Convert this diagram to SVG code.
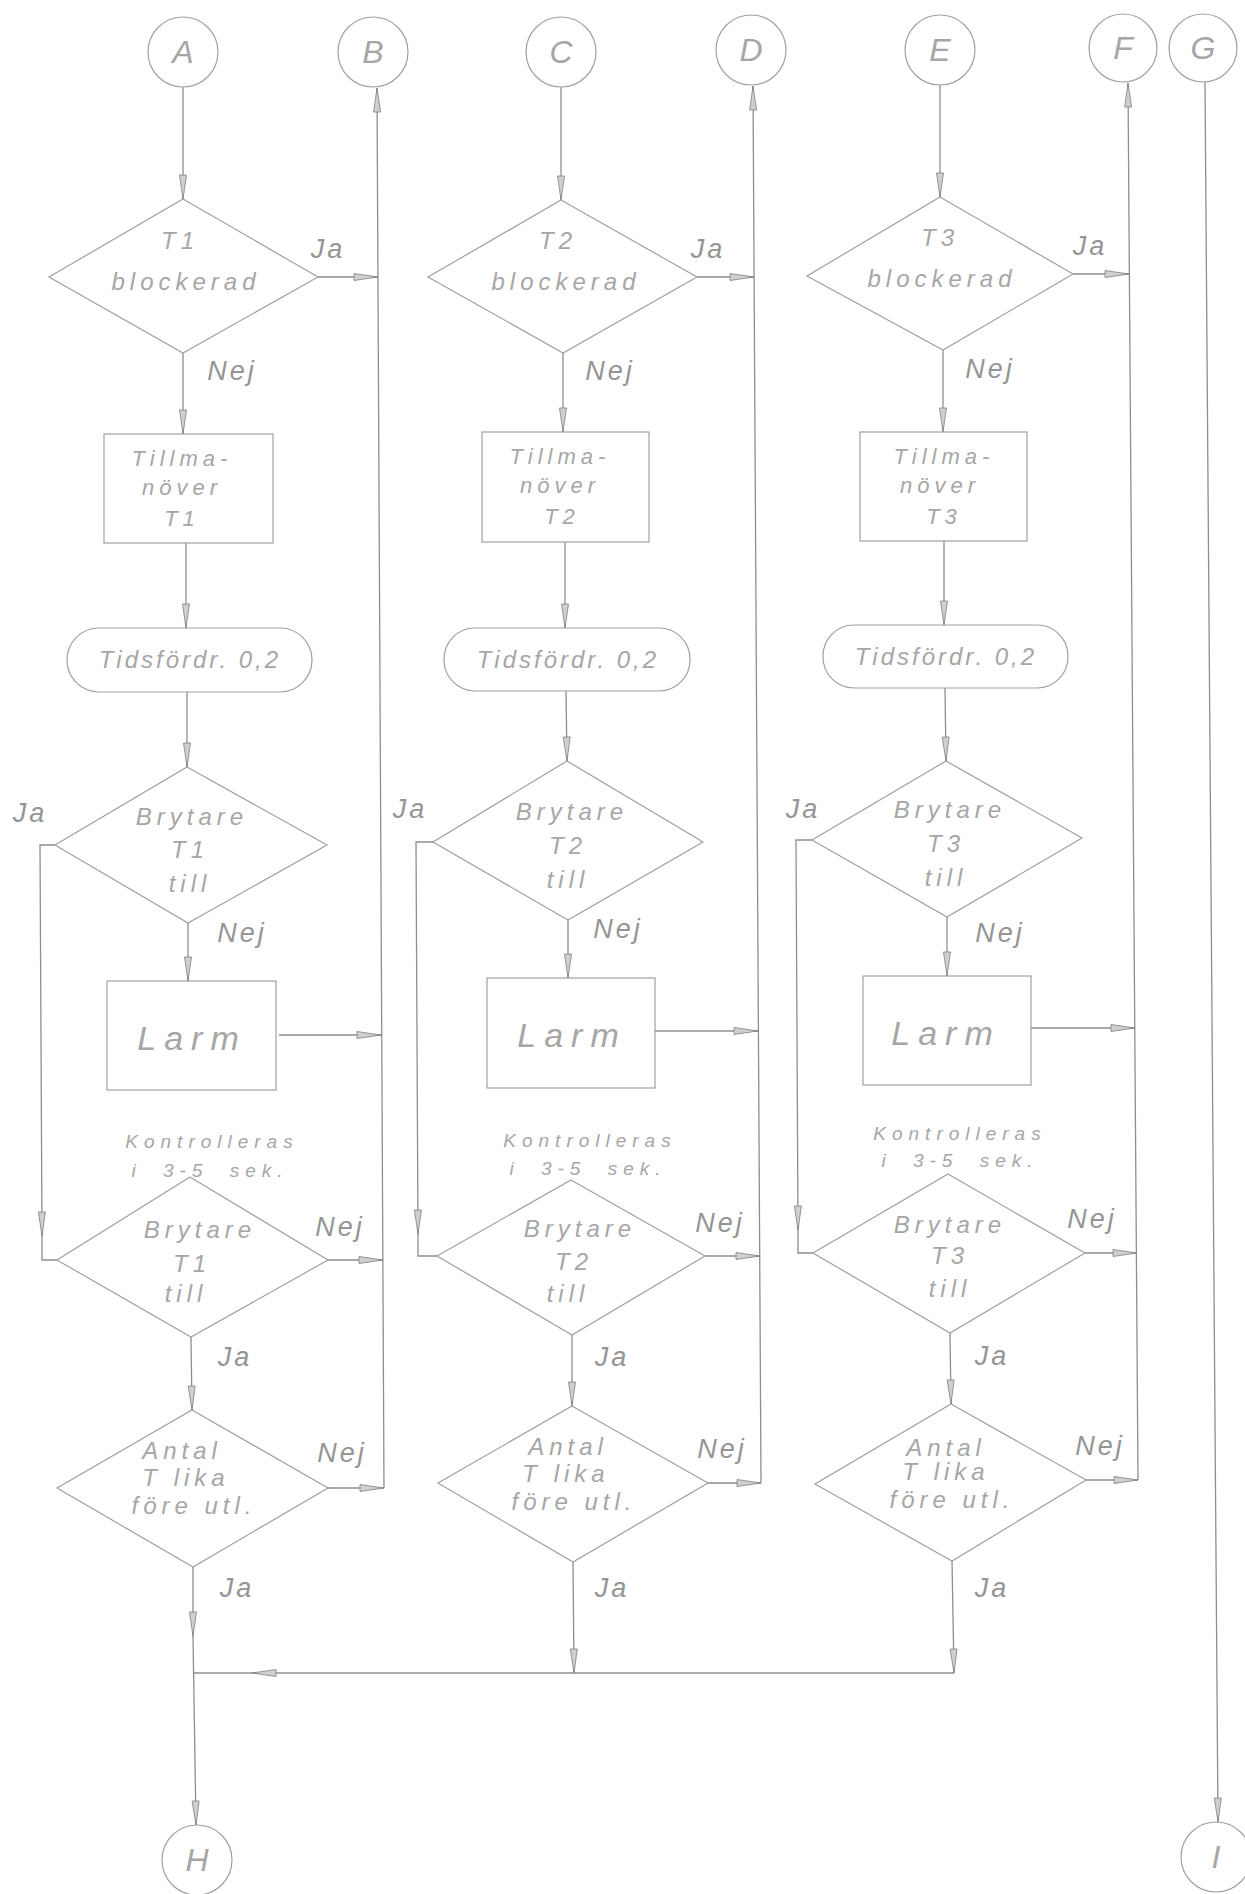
<svg xmlns="http://www.w3.org/2000/svg" width="1245" height="1894" viewBox="0 0 1245 1894">
  <defs>
    <style>
      .sh { fill: none; stroke: #a0a0a0; stroke-width: 1.2; }
      .cn { fill: none; stroke: #8e8e8e; stroke-width: 1.3; }
      .tx { font-family: "Liberation Sans", "DejaVu Sans", sans-serif; font-style: italic; fill: #a6a6a6; text-anchor: middle; }
      .dm { font-size: 24px; letter-spacing: 5px; }
      .bx { font-size: 22px; letter-spacing: 5px; }
      .pl { font-size: 24px; letter-spacing: 3px; }
      .lm { font-size: 34px; letter-spacing: 8px; }
      .kt { font-size: 19px; letter-spacing: 6px; word-spacing: 10px; }
      .lb { font-size: 27px; letter-spacing: 3px; fill: #959595; }
      .cc { font-size: 32px; }
    </style>
    <marker id="arr" markerUnits="userSpaceOnUse" markerWidth="28" markerHeight="10" refX="25" refY="4.5" orient="auto">
      <path d="M1,1 L25,4.5 L1,8 Z" fill="#cfcfcf" stroke="#808080" stroke-width="0.8"/>
    </marker>
  </defs>

  <rect x="0" y="0" width="1245" height="1894" fill="#ffffff"/>

  <!-- connectors -->
  <g id="connectors" class="cn">
    <!-- column 1 -->
    <path d="M183,87 L183,199" marker-end="url(#arr)"/>
    <path d="M318,277 L378,277" marker-end="url(#arr)"/>
    <path d="M384,1488 L377,88" marker-end="url(#arr)"/>
    <path d="M183,353 L183,434" marker-end="url(#arr)"/>
    <path d="M186,543 L186,628" marker-end="url(#arr)"/>
    <path d="M187,692 L187,767" marker-end="url(#arr)"/>
    <path d="M55,845 L40,845 L42,1236" marker-end="url(#arr)"/>
    <path d="M42,1236 L42,1260 L57,1260"/>
    <path d="M188,923 L188,981" marker-end="url(#arr)"/>
    <path d="M279,1035 L381,1035" marker-end="url(#arr)"/>
    <path d="M328,1260 L383,1260" marker-end="url(#arr)"/>
    <path d="M191,1337 L192,1410" marker-end="url(#arr)"/>
    <path d="M328,1488 L384,1488" marker-end="url(#arr)"/>
    <path d="M193,1567 L193,1636" marker-end="url(#arr)"/>
    <path d="M193,1636 L196,1825" marker-end="url(#arr)"/>

    <!-- column 2 -->
    <path d="M561,87 L561,200" marker-end="url(#arr)"/>
    <path d="M697,277 L754,277" marker-end="url(#arr)"/>
    <path d="M761,1483 L753,86" marker-end="url(#arr)"/>
    <path d="M563,353 L563,432" marker-end="url(#arr)"/>
    <path d="M565,542 L565,628" marker-end="url(#arr)"/>
    <path d="M566,691 L567,761" marker-end="url(#arr)"/>
    <path d="M433,842 L416,842 L418,1234" marker-end="url(#arr)"/>
    <path d="M418,1234 L418,1256 L437,1256"/>
    <path d="M568,920 L568,978" marker-end="url(#arr)"/>
    <path d="M655,1031 L758,1031" marker-end="url(#arr)"/>
    <path d="M705,1256 L760,1256" marker-end="url(#arr)"/>
    <path d="M572,1335 L572,1406" marker-end="url(#arr)"/>
    <path d="M708,1483 L761,1483" marker-end="url(#arr)"/>
    <path d="M573,1562 L574,1673" marker-end="url(#arr)"/>

    <!-- column 3 -->
    <path d="M940,85 L940,197" marker-end="url(#arr)"/>
    <path d="M1073,274 L1129,274" marker-end="url(#arr)"/>
    <path d="M1138,1480 L1128,83" marker-end="url(#arr)"/>
    <path d="M943,350 L943,432" marker-end="url(#arr)"/>
    <path d="M944,541 L944,625" marker-end="url(#arr)"/>
    <path d="M945,688 L946,761" marker-end="url(#arr)"/>
    <path d="M812,840 L796,840 L798,1230" marker-end="url(#arr)"/>
    <path d="M798,1230 L798,1253 L813,1253"/>
    <path d="M947,917 L947,976" marker-end="url(#arr)"/>
    <path d="M1031,1028 L1135,1028" marker-end="url(#arr)"/>
    <path d="M1085,1253 L1137,1253" marker-end="url(#arr)"/>
    <path d="M950,1333 L951,1404" marker-end="url(#arr)"/>
    <path d="M1086,1480 L1138,1480" marker-end="url(#arr)"/>
    <path d="M952,1561 L954,1673" marker-end="url(#arr)"/>

    <!-- common return line to H -->
    <path d="M954,1673 L252,1673" marker-end="url(#arr)"/>
    <path d="M252,1673 L193,1673"/>

    <!-- G to I -->
    <path d="M1205,82 L1218,1822" marker-end="url(#arr)"/>
  </g>

  <!-- connector labels -->
  <g id="labels" class="tx lb">
    <text x="328" y="258">Ja</text>
    <text x="232" y="380">Nej</text>
    <text x="30" y="822">Ja</text>
    <text x="242" y="942">Nej</text>
    <text x="340" y="1236">Nej</text>
    <text x="235" y="1366">Ja</text>
    <text x="342" y="1462">Nej</text>
    <text x="237" y="1597">Ja</text>

    <text x="708" y="258">Ja</text>
    <text x="610" y="380">Nej</text>
    <text x="410" y="818">Ja</text>
    <text x="618" y="938">Nej</text>
    <text x="720" y="1232">Nej</text>
    <text x="612" y="1366">Ja</text>
    <text x="722" y="1458">Nej</text>
    <text x="612" y="1597">Ja</text>

    <text x="1090" y="255">Ja</text>
    <text x="990" y="378">Nej</text>
    <text x="803" y="818">Ja</text>
    <text x="1000" y="942">Nej</text>
    <text x="1092" y="1228">Nej</text>
    <text x="992" y="1365">Ja</text>
    <text x="1100" y="1455">Nej</text>
    <text x="992" y="1597">Ja</text>
  </g>

  <!-- connector circles -->
  <g id="circA"><circle class="sh" cx="183" cy="52" r="35"/><text class="tx cc" x="183" y="63">A</text></g>
  <g id="circB"><circle class="sh" cx="373" cy="52" r="35"/><text class="tx cc" x="373" y="63">B</text></g>
  <g id="circC"><circle class="sh" cx="561" cy="52" r="35"/><text class="tx cc" x="561" y="63">C</text></g>
  <g id="circD"><circle class="sh" cx="751" cy="50" r="35"/><text class="tx cc" x="751" y="61">D</text></g>
  <g id="circE"><circle class="sh" cx="940" cy="50" r="35"/><text class="tx cc" x="940" y="61">E</text></g>
  <g id="circF"><circle class="sh" cx="1123" cy="48" r="34"/><text class="tx cc" x="1123" y="59">F</text></g>
  <g id="circG"><circle class="sh" cx="1203" cy="48" r="34"/><text class="tx cc" x="1203" y="59">G</text></g>
  <g id="circH"><circle class="sh" cx="197" cy="1860" r="35"/><text class="tx cc" x="197" y="1871">H</text></g>
  <g id="circI"><circle class="sh" cx="1216" cy="1857" r="35"/><text class="tx cc" x="1216" y="1868">I</text></g>

  <!-- column 1 : T1 -->
  <g id="blocked1">
    <polygon class="sh" points="183,199 318,277 183,353 49,277"/>
    <text class="tx dm" x="180" y="249">T1</text>
    <text class="tx dm" x="186" y="290">blockerad</text>
  </g>
  <g id="manoeuvre1">
    <rect class="sh" x="104" y="434" width="169" height="109"/>
    <text class="tx bx" x="182" y="466">Tillma-</text>
    <text class="tx bx" x="182" y="495">növer</text>
    <text class="tx bx" x="182" y="526">T1</text>
  </g>
  <g id="delay1">
    <rect class="sh" x="67" y="628" width="245" height="64" rx="32"/>
    <text class="tx pl" x="190" y="668">Tidsfördr. 0,2</text>
  </g>
  <g id="breaker1a">
    <polygon class="sh" points="187,767 327,845 188,923 55,845"/>
    <text class="tx dm" x="192" y="825">Brytare</text>
    <text class="tx dm" x="190" y="858">T1</text>
    <text class="tx dm" x="190" y="892">till</text>
  </g>
  <g id="alarm1">
    <rect class="sh" x="107" y="981" width="169" height="109"/>
    <text class="tx lm" x="192" y="1050">Larm</text>
  </g>
  <g id="check1">
    <text class="tx kt" x="212" y="1148">Kontrolleras</text>
    <text class="tx kt" x="210" y="1177">i 3-5 sek.</text>
  </g>
  <g id="breaker1b">
    <polygon class="sh" points="190,1177 328,1260 191,1337 57,1260"/>
    <text class="tx dm" x="200" y="1238">Brytare</text>
    <text class="tx dm" x="192" y="1272">T1</text>
    <text class="tx dm" x="186" y="1302">till</text>
  </g>
  <g id="count1">
    <polygon class="sh" points="192,1410 328,1488 193,1567 57,1488"/>
    <text class="tx dm" x="182" y="1459">Antal</text>
    <text class="tx dm" x="186" y="1486">T lika</text>
    <text class="tx dm" x="194" y="1514">före utl.</text>
  </g>

  <!-- column 2 : T2 -->
  <g id="blocked2">
    <polygon class="sh" points="561,200 697,277 563,353 428,277"/>
    <text class="tx dm" x="558" y="249">T2</text>
    <text class="tx dm" x="566" y="290">blockerad</text>
  </g>
  <g id="manoeuvre2">
    <rect class="sh" x="482" y="432" width="167" height="110"/>
    <text class="tx bx" x="560" y="464">Tillma-</text>
    <text class="tx bx" x="560" y="493">növer</text>
    <text class="tx bx" x="562" y="524">T2</text>
  </g>
  <g id="delay2">
    <rect class="sh" x="444" y="628" width="246" height="63" rx="31"/>
    <text class="tx pl" x="568" y="668">Tidsfördr. 0,2</text>
  </g>
  <g id="breaker2a">
    <polygon class="sh" points="567,761 703,842 568,920 433,842"/>
    <text class="tx dm" x="572" y="820">Brytare</text>
    <text class="tx dm" x="568" y="854">T2</text>
    <text class="tx dm" x="568" y="888">till</text>
  </g>
  <g id="alarm2">
    <rect class="sh" x="487" y="978" width="168" height="110"/>
    <text class="tx lm" x="572" y="1047">Larm</text>
  </g>
  <g id="check2">
    <text class="tx kt" x="590" y="1147">Kontrolleras</text>
    <text class="tx kt" x="588" y="1175">i 3-5 sek.</text>
  </g>
  <g id="breaker2b">
    <polygon class="sh" points="571,1180 705,1256 572,1335 437,1256"/>
    <text class="tx dm" x="580" y="1237">Brytare</text>
    <text class="tx dm" x="574" y="1270">T2</text>
    <text class="tx dm" x="568" y="1302">till</text>
  </g>
  <g id="count2">
    <polygon class="sh" points="572,1406 708,1483 573,1562 438,1483"/>
    <text class="tx dm" x="568" y="1455">Antal</text>
    <text class="tx dm" x="566" y="1482">T lika</text>
    <text class="tx dm" x="574" y="1510">före utl.</text>
  </g>

  <!-- column 3 : T3 -->
  <g id="blocked3">
    <polygon class="sh" points="940,197 1073,274 943,350 807,276"/>
    <text class="tx dm" x="940" y="246">T3</text>
    <text class="tx dm" x="942" y="287">blockerad</text>
  </g>
  <g id="manoeuvre3">
    <rect class="sh" x="860" y="432" width="167" height="109"/>
    <text class="tx bx" x="944" y="464">Tillma-</text>
    <text class="tx bx" x="940" y="493">növer</text>
    <text class="tx bx" x="944" y="524">T3</text>
  </g>
  <g id="delay3">
    <rect class="sh" x="823" y="625" width="245" height="63" rx="31"/>
    <text class="tx pl" x="946" y="665">Tidsfördr. 0,2</text>
  </g>
  <g id="breaker3a">
    <polygon class="sh" points="946,761 1082,838 947,917 812,840"/>
    <text class="tx dm" x="950" y="818">Brytare</text>
    <text class="tx dm" x="946" y="852">T3</text>
    <text class="tx dm" x="946" y="886">till</text>
  </g>
  <g id="alarm3">
    <rect class="sh" x="863" y="976" width="168" height="109"/>
    <text class="tx lm" x="946" y="1045">Larm</text>
  </g>
  <g id="check3">
    <text class="tx kt" x="960" y="1140">Kontrolleras</text>
    <text class="tx kt" x="960" y="1167">i 3-5 sek.</text>
  </g>
  <g id="breaker3b">
    <polygon class="sh" points="948,1174 1085,1253 950,1333 813,1253"/>
    <text class="tx dm" x="950" y="1233">Brytare</text>
    <text class="tx dm" x="950" y="1264">T3</text>
    <text class="tx dm" x="950" y="1297">till</text>
  </g>
  <g id="count3">
    <polygon class="sh" points="951,1404 1086,1480 952,1561 815,1484"/>
    <text class="tx dm" x="946" y="1456">Antal</text>
    <text class="tx dm" x="946" y="1480">T lika</text>
    <text class="tx dm" x="952" y="1508">före utl.</text>
  </g>
</svg>
